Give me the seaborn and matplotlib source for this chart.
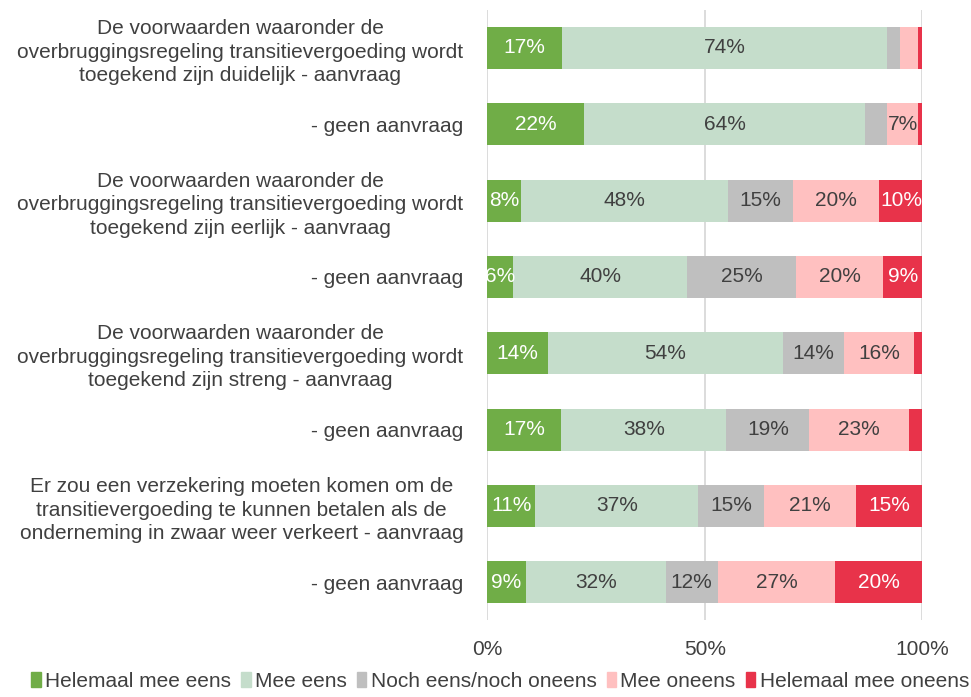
import numpy as np
import pandas as pd
import matplotlib.pyplot as plt
import seaborn as sns

# categories (top to bottom)
statements = [
    "De voorwaarden waaronder de\noverbruggingsregeling transitievergoeding wordt\ntoegekend zijn duidelijk - aanvraag",
    "- geen aanvraag",
    "De voorwaarden waaronder de\noverbruggingsregeling transitievergoeding wordt\ntoegekend zijn eerlijk - aanvraag",
    "- geen aanvraag ",
    "De voorwaarden waaronder de\noverbruggingsregeling transitievergoeding wordt\ntoegekend zijn streng - aanvraag",
    "- geen aanvraag  ",
    "Er zou een verzekering moeten komen om de\ntransitievergoeding te kunnen betalen als de\nonderneming in zwaar weer verkeert - aanvraag",
    "- geen aanvraag   ",
]
answers = ["Helemaal mee eens", "Mee eens", "Noch eens/noch oneens",
           "Mee oneens", "Helemaal mee oneens"]

helemaal_eens = [17, 22, 8, 6, 14, 17, 11, 9]
mee_eens = [74, 64, 48, 40, 54, 38, 37, 32]
neutraal = [3, 5, 15, 25, 14, 19, 15, 12]
mee_oneens = [4, 7, 20, 20, 16, 23, 21, 27]
helemaal_oneens = [1, 1, 10, 9, 2, 3, 15, 20]

colors = ["#70AD47", "#C5DDCB", "#BFBFBF", "#FFC0C0", "#E8334A"]
text_colors = ["white", "#404040", "#404040", "#404040", "white"]

plt.rcParams['font.family'] = ['Liberation Sans', 'DejaVu Sans']

df = pd.DataFrame({
    "statement": statements,
    answers[0]: helemaal_eens,
    answers[1]: mee_eens,
    answers[2]: neutraal,
    answers[3]: mee_oneens,
    answers[4]: helemaal_oneens,
})
vals = df[answers].to_numpy(dtype=float)
shares = vals / vals.sum(axis=1, keepdims=True)
cum = np.cumsum(shares, axis=1)

fig, ax = plt.subplots(figsize=(9.71, 6.97), dpi=100)
fig.subplots_adjust(left=0.5015, right=0.950, top=0.986, bottom=0.11)

for x in [0, 0.5, 1.0]:
    ax.axvline(x, color="#D9D9D9", lw=1.3, zorder=0)

# stacked bars: draw cumulative totals from the full bar down to the first segment
for i in range(len(answers) - 1, -1, -1):
    plot_df = pd.DataFrame({"statement": statements, "value": cum[:, i]})
    sns.barplot(data=plot_df, y="statement", x="value", orient="h",
                color=colors[i], width=0.55, ax=ax, zorder=2,
                saturation=1)

for r in range(len(statements)):
    for i in range(len(answers)):
        v = vals[r, i]
        if v < 6:
            continue
        mid = cum[r, i] - shares[r, i] / 2
        ax.text(mid, r, f"{int(v)}%", ha="center", va="center",
                fontsize=15, color=text_colors[i], zorder=3)

ax.set_xlim(0, 1)
ax.set_ylim(len(statements) - 0.5, -0.5)
ax.set_xticks([0, 0.5, 1.0])
ax.set_xticklabels(["0%", "50%", "100%"])
ax.set_xlabel("")
ax.set_ylabel("")
ax.set_yticks(range(len(statements)))
ax.set_yticklabels([s.strip() for s in statements], multialignment="center",
                   linespacing=1.3)
ax.tick_params(axis="both", length=0, labelsize=15, labelcolor="#404040")
ax.tick_params(axis="y", pad=17)
ax.tick_params(axis="x", pad=14)
for s in ax.spines.values():
    s.set_visible(False)

handles = [plt.Rectangle((0, 0), 1, 1, color=c) for c in colors]
fig.legend(handles, answers, loc="lower center", ncol=5, frameon=False,
           fontsize=15, handlelength=0.45, handleheight=0.7, handletextpad=0.2,
           columnspacing=0.5, bbox_to_anchor=(0.515, -0.018),
           labelcolor="#404040")

fig.savefig("out.png", dpi=100)
